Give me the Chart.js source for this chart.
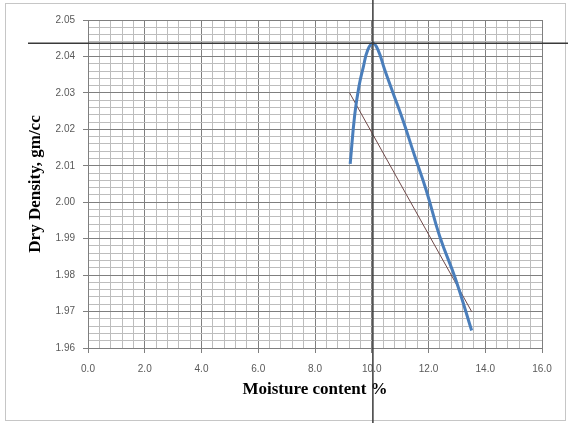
<!DOCTYPE html>
<html>
<head>
<meta charset="utf-8">
<script src="https://cdn.jsdelivr.net/npm/chart.js@4/dist/chart.umd.min.js"></script>
<style>
  html, body { margin: 0; padding: 0; background: #fff; }
  canvas { display: block; }
</style>
</head>
<body>
<canvas id="proctorChart" width="568" height="423"></canvas>
<script>
// compaction curve
const moisture = [9.24, 9.40, 9.55, 9.70, 9.86, 10.04, 10.22, 10.45, 10.75, 11.10, 11.50, 11.92, 12.40, 12.95, 13.52];
const dryDensity = [2.0105, 2.0240, 2.0318, 2.0370, 2.0418, 2.0436, 2.0418, 2.0365, 2.0300, 2.0225, 2.0130, 2.0033, 1.9905, 1.9790, 1.9648];

// thin straight line
const lineMoisture = [9.22, 13.52];
const lineDensity = [2.030, 1.970];

// optimum moisture / max dry density markers
const optimumMoisture = [10.04];
const maxDryDensity = [2.0436];

const xTicks = [0, 2, 4, 6, 8, 10, 12, 14, 16];
const yTicks = [1.96, 1.97, 1.98, 1.99, 2.00, 2.01, 2.02, 2.03, 2.04, 2.05];

function isMajor(v, step) {
    const r = v / step;
    return Math.abs(r - Math.round(r)) < 1e-6;
}

function toPoints(xs, ys) {
    return xs.map((x, i) => ({ x: x, y: ys[i] }));
}

// draws the outer frame and the two crossing lines at the peak
const markerPlugin = {
    id: 'markers',
    beforeDraw(chart) {
        const ctx = chart.ctx;
        ctx.save();
        ctx.strokeStyle = '#c6c6c6';
        ctx.lineWidth = 1;
        ctx.strokeRect(5.5, 3.5, 560, 417);
        ctx.restore();
    },
    afterDatasetsDraw(chart) {
        const ctx = chart.ctx;
        const xs = chart.scales.x;
        const ys = chart.scales.y;
        ctx.save();
        ctx.strokeStyle = '#3a3a3a';
        ctx.lineWidth = 1.5;
        optimumMoisture.forEach(m => {
            const px = xs.getPixelForValue(m);
            ctx.beginPath();
            ctx.moveTo(px, 0);
            ctx.lineTo(px, chart.height);
            ctx.stroke();
        });
        maxDryDensity.forEach(d => {
            const py = ys.getPixelForValue(d);
            ctx.beginPath();
            ctx.moveTo(28, py);
            ctx.lineTo(chart.width, py);
            ctx.stroke();
        });
        ctx.restore();
    }
};

const ctx = document.getElementById('proctorChart').getContext('2d');
const myChart = new Chart(ctx, {
    type: 'scatter',
    data: {
        datasets: [
            {
                label: 'Compaction',
                data: toPoints(moisture, dryDensity),
                showLine: true,
                borderColor: '#4a7ebb',
                borderWidth: 3,
                pointRadius: 0,
                tension: 0.45
            },
            {
                label: 'Line',
                data: toPoints(lineMoisture, lineDensity),
                showLine: true,
                borderColor: '#6e4848',
                borderWidth: 1,
                pointRadius: 0
            }
        ]
    },
    options: {
        responsive: false,
        animation: false,
        layout: { padding: { left: 0, top: 20, right: 26, bottom: 0 } },
        plugins: {
            legend: { display: false },
            tooltip: { enabled: false }
        },
        scales: {
            x: {
                type: 'linear',
                min: xTicks[0],
                max: xTicks[xTicks.length - 1],
                afterFit(scale) { scale.height = 75; },
                ticks: {
                    stepSize: 0.4,
                    autoSkip: false,
                    maxRotation: 0,
                    padding: 10,
                    color: '#595959',
                    font: { family: 'Liberation Sans', size: 10 },
                    callback: v => isMajor(v, 2) ? v.toFixed(1) : ''
                },
                grid: {
                    color: c => isMajor(c.tick.value, 2) ? '#7f7f7f' : '#bdbdbd',
                    tickColor: c => isMajor(c.tick.value, 2) ? '#7f7f7f' : 'rgba(0,0,0,0)',
                    tickLength: 5
                },
                border: { color: '#7f7f7f' },
                title: {
                    display: true,
                    text: 'Moisture content %',
                    color: '#000',
                    font: { family: 'Liberation Serif', size: 17, weight: 'bold' },
                    padding: { top: 0, bottom: 23 }
                }
            },
            y: {
                type: 'linear',
                min: yTicks[0],
                max: yTicks[yTicks.length - 1],
                afterFit(scale) { scale.width = 88; },
                ticks: {
                    stepSize: 0.002,
                    autoSkip: false,
                    padding: 8,
                    color: '#595959',
                    font: { family: 'Liberation Sans', size: 10 },
                    callback: v => isMajor(v, 0.01) ? v.toFixed(2) : ''
                },
                grid: {
                    color: c => isMajor(c.tick.value, 0.01) ? '#7f7f7f' : '#bdbdbd',
                    tickColor: c => isMajor(c.tick.value, 0.01) ? '#7f7f7f' : 'rgba(0,0,0,0)',
                    tickLength: 5
                },
                border: { color: '#7f7f7f' },
                title: {
                    display: true,
                    text: 'Dry Density, gm/cc',
                    color: '#000',
                    font: { family: 'Liberation Serif', size: 17, weight: 'bold' },
                    padding: { top: 25, bottom: 0 }
                }
            }
        }
    },
    plugins: [markerPlugin]
});
</script>
</body>
</html>
